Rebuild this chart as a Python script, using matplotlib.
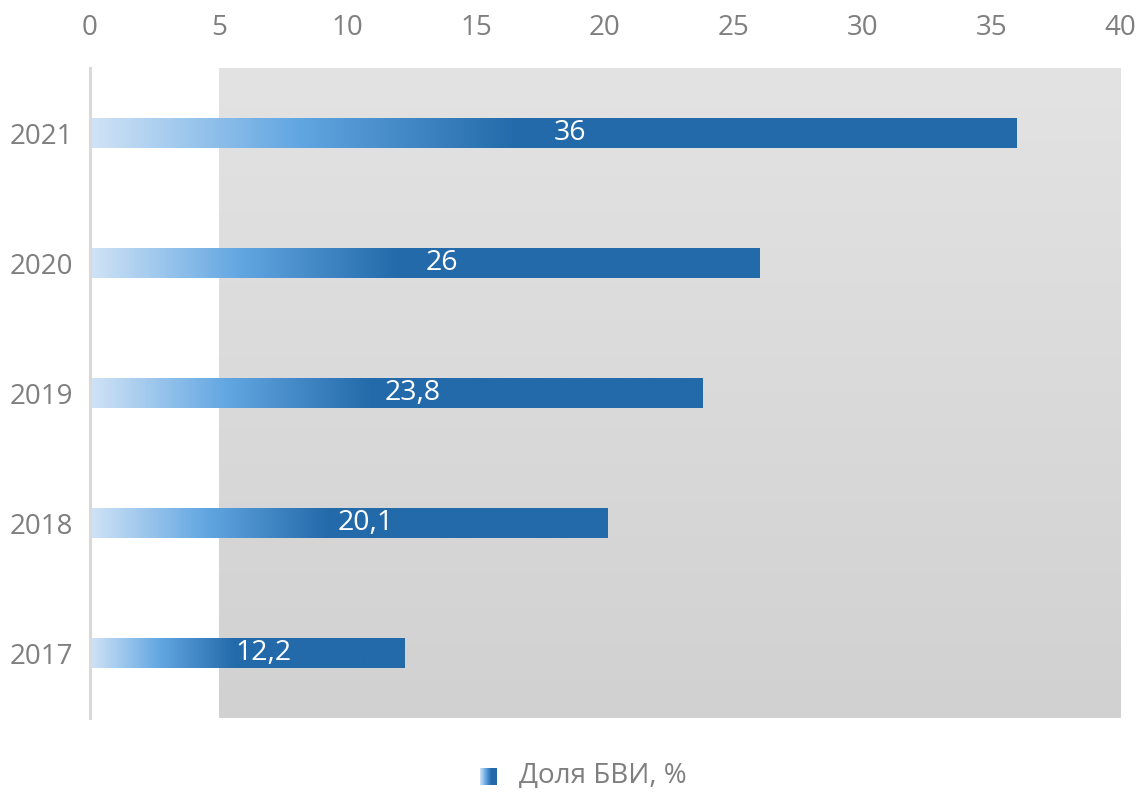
import matplotlib.pyplot as plt
import numpy as np
from matplotlib.colors import LinearSegmentedColormap

plt.rcParams['font.family'] = ['Open Sans', 'DejaVu Sans']

# Data
years = ['2017', '2018', '2019', '2020', '2021']
values = [12.2, 20.1, 23.8, 26, 36]
labels = ['12,2', '20,1', '23,8', '26', '36']
legend_label = 'Доля БВИ, %'

grey = '#7f7f7f'
bar_cmap = LinearSegmentedColormap.from_list(
    'bar', [(0, '#d0e3f6'), (0.22, '#63a7e2'), (0.46, '#236aaa'), (1, '#236aaa')])
bg_cmap = LinearSegmentedColormap.from_list('bg', ['#d1d1d1', '#e3e3e3'])

fig = plt.figure(figsize=(11.4, 7.92), dpi=100)
ax = fig.add_axes([90 / 1140, 1 - 718 / 792, 1030 / 1140, 650 / 792])

n = len(years)

# grey plot-area background, starting at x=5
grad = np.linspace(0, 1, 256).reshape(-1, 1)
ax.imshow(grad, cmap=bg_cmap, aspect='auto', origin='lower',
          extent=[5, 40, -0.5, n - 0.5], zorder=0)

# gradient bars
h = 0.23
row = np.linspace(0, 1, 512).reshape(1, -1)
for i, v in enumerate(values):
    ax.imshow(row, cmap=bar_cmap, aspect='auto',
              extent=[0, v, i - h / 2, i + h / 2], zorder=2)
    ax.text(v / 2 + 0.65, i, labels[i], color='white', fontsize=20.5,
            ha='center', va='center', zorder=3)

ax.set_xlim(0, 40)
ax.set_ylim(-0.5, n - 0.5)

ax.set_xticks(np.arange(0, 41, 5))
ax.xaxis.tick_top()
ax.set_yticks(range(n))
ax.set_yticklabels(years)
ax.tick_params(axis='x', length=0, pad=19, labelsize=20, labelcolor=grey)
ax.tick_params(axis='y', length=0, pad=12, labelsize=20, labelcolor=grey)

for s in ['top', 'right', 'bottom']:
    ax.spines[s].set_visible(False)
ax.spines['left'].set_color('#d9d9d9')
ax.spines['left'].set_linewidth(2.2)
ax.spines['left'].set_zorder(4)

# legend
lax = fig.add_axes([480 / 1140, 1 - 785 / 792, 17 / 1140, 17 / 792])
lax.imshow(np.linspace(0, 1, 64).reshape(1, -1),
           cmap=LinearSegmentedColormap.from_list('leg', ['#d0e3f6', '#63a7e2', '#236aaa', '#236aaa']),
           aspect='auto')
lax.axis('off')
fig.text(519 / 1140, 1 - 776 / 792, legend_label, fontsize=20, color=grey,
         ha='left', va='center')

fig.savefig('out.png', dpi=100)
